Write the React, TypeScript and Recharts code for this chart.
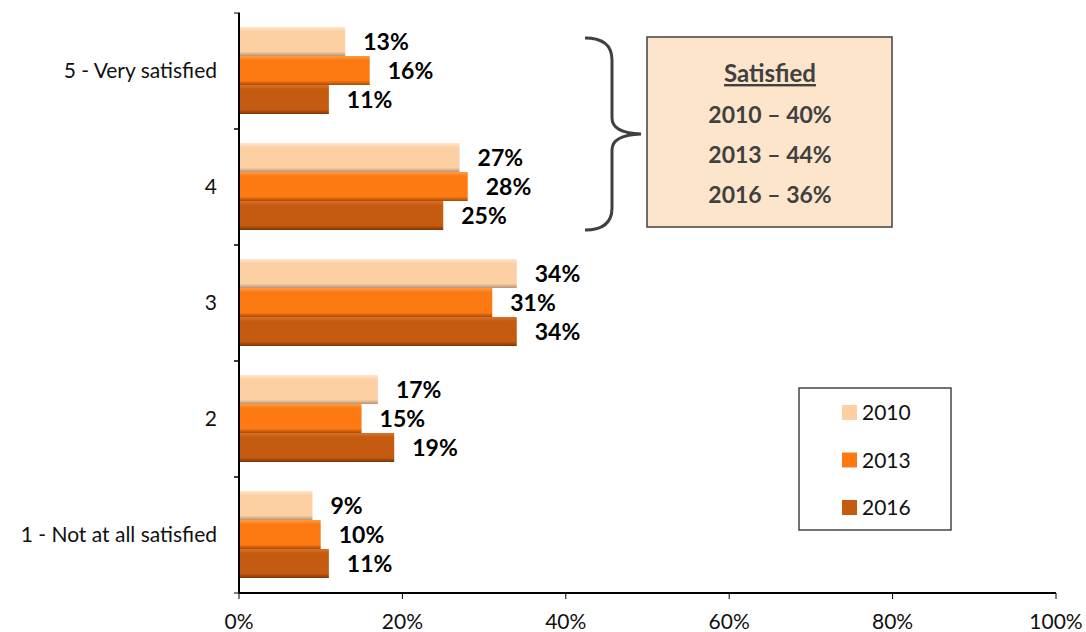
import { Bar, BarChart, LabelList, XAxis, YAxis, Customized } from "recharts";

const categories = ["5 - Very satisfied", "4", "3", "2", "1 - Not at all satisfied"];
const values2010 = [13, 27, 34, 17, 9];
const values2013 = [16, 28, 31, 15, 10];
const values2016 = [11, 25, 34, 19, 11];
const xTicks = [0, 20, 40, 60, 80, 100];
const satisfiedLines = ["2010 – 40%", "2013 – 44%", "2016 – 36%"];

const series = [
  { key: "y2010", name: "2010", color: "#fdd0a4", light: "#fee6cb", dark: "#b89270" },
  { key: "y2013", name: "2013", color: "#fd7a12", light: "#ff9a45", dark: "#a84a05" },
  { key: "y2016", name: "2016", color: "#c55a11", light: "#d8732c", dark: "#7d3507" },
];

const data = categories.map((c, i) => ({
  cat: c,
  y2010: values2010[i],
  y2013: values2013[i],
  y2016: values2016[i],
}));

const FONT = "Lato, 'Open Sans', sans-serif";

function YTick(props: any) {
  const { x, y, payload } = props;
  const half = 58;
  return (
    <g>
      <line x1={x + 3} x2={x + 9} y1={y - half} y2={y - half} stroke="#000" strokeWidth={1} />
      <line x1={x + 3} x2={x + 9} y1={y + half} y2={y + half} stroke="#000" strokeWidth={1} />
      <text x={x - 14} y={y} dy={7} textAnchor="end" fontSize={21} fontFamily={FONT} fill="#111">
        {payload.value}
      </text>
    </g>
  );
}

function ValueLabel(props: any) {
  const { x, y, width, height, value } = props;
  return (
    <text
      x={x + width + 18}
      y={y + height / 2}
      dy={8}
      fontSize={23}
      fontWeight={700}
      fontFamily={FONT}
      fill="#000"
    >
      {value}%
    </text>
  );
}

function LegendBox() {
  return (
    <g fontFamily={FONT}>
      <rect x={799} y={388} width={152} height={142} fill="#fff" stroke="#444" strokeWidth={1.5} />
      {series.map((s, i) => (
        <g key={s.key}>
          <rect x={842} y={405 + i * 47.5} width={15} height={15} fill={s.color} />
          <text x={862} y={420 + i * 47.5} fontSize={21} fill="#111">
            {s.name}
          </text>
        </g>
      ))}
    </g>
  );
}

function SatisfiedNote() {
  return (
    <g fontFamily={FONT}>
      <path
        d="M585 38 Q612 38 612 60 L612 118 Q612 133 641 134 Q612 135 612 150 L612 208 Q612 230 585 230"
        fill="none"
        stroke="#404040"
        strokeWidth={3}
      />
      <rect x={647} y={37} width={245} height={190} fill="#fde5cc" stroke="#404040" strokeWidth={1.5} />
      <text x={770} y={82} textAnchor="middle" fontSize={24} fontWeight={700} fill="#404040" textDecoration="underline">
        Satisfied
      </text>
      {satisfiedLines.map((t, i) => (
        <text key={t} x={770} y={123 + i * 40} textAnchor="middle" fontSize={23} fontWeight={700} fill="#404040">
          {t}
        </text>
      ))}
    </g>
  );
}

export default function App() {
  return (
    <div style={{ position: "absolute", left: 0, top: 0, width: 1086, height: 632, background: "#fff" }}>
      <BarChart
        width={1086}
        height={632}
        data={data}
        layout="vertical"
        margin={{ top: 13, right: 30, bottom: 0, left: 0 }}
        barCategoryGap={14}
        barGap={0}
      >
        <defs>
          {series.map((s) => (
            <linearGradient key={s.key} id={`g-${s.key}`} x1="0" y1="0" x2="0" y2="1">
              <stop offset="0%" stopColor={s.light} />
              <stop offset="15%" stopColor={s.color} />
              <stop offset="85%" stopColor={s.color} />
              <stop offset="100%" stopColor={s.dark} />
            </linearGradient>
          ))}
        </defs>
        <XAxis
          type="number"
          domain={[0, 100]}
          ticks={xTicks}
          tickFormatter={(v) => `${v}%`}
          axisLine={{ stroke: "#000", strokeWidth: 2 }}
          tickLine={{ stroke: "#000" }}
          tickSize={6}
          height={39}
          tick={{ fontSize: 21, fontFamily: FONT, fill: "#111", dy: 13 }}
        />
        <YAxis
          type="category"
          dataKey="cat"
          width={239}
          axisLine={{ stroke: "#000", strokeWidth: 2 }}
          tickLine={false}
          tick={<YTick />}
          interval={0}
        />
        {series.map((s) => (
          <Bar key={s.key} dataKey={s.key} name={s.name} fill={`url(#g-${s.key})`} isAnimationActive={false}>
            <LabelList dataKey={s.key} content={<ValueLabel />} />
          </Bar>
        ))}
        <Customized component={<SatisfiedNote />} />
        <Customized component={<LegendBox />} />
      </BarChart>
    </div>
  );
}
